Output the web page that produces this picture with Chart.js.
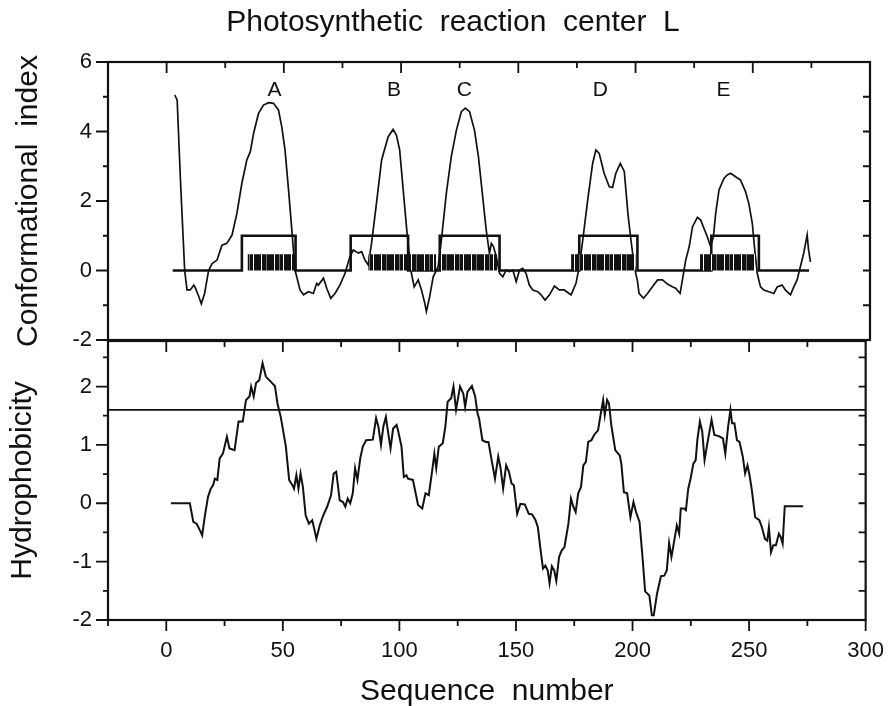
<!DOCTYPE html>
<html><head><meta charset="utf-8">
<script src="https://cdn.jsdelivr.net/npm/chart.js@4.4.1/dist/chart.umd.min.js"></script>
<style>
html,body{margin:0;padding:0;background:#fff;}
#wrap{position:relative;width:890px;height:706px;overflow:hidden;background:#fff;}
canvas{position:absolute;left:0;}
#c1{top:0;z-index:2;}
#c2{top:300px;z-index:1;}
</style></head><body>
<div id="wrap">
<canvas id="c1" width="890" height="365"></canvas>
<canvas id="c2" width="890" height="406"></canvas>
</div>
<script>
// ---------- data ----------
const seqTicks = [0, 50, 100, 150, 200, 250, 300];
const seqMinor = [-25, 25, 75, 125, 175, 225, 275];
const ciTicks = [-2, 0, 2, 4, 6];
const ciMinor = [-1, 1, 3, 5];
const hyTicks = [-2, -1, 0, 1, 2];
const hyMinor = [-1.5, -0.5, 0.5, 1.5, 2.5];

const helixLabels = ['A', 'B', 'C', 'D', 'E'];
const helixLabelX = [46, 97, 127, 185, 237.5];
const helixLabelY = 5.2;

const stepX = [2.6, 32.1, 55, 78.5, 103, 116.5, 142, 176, 200.8, 232.3, 252.6, 274];
const stepY = [0, 1, 0, 1, 0, 1, 0, 1, 0, 1, 0, 0];

const barStart = [34.5, 86, 116, 172.5, 227.5];
const barEnd = [55, 115, 141, 200, 251];
const barTop = 0.47;

const ciX = [3.5,4.5,5.9,7.7,8.7,10.1,11.6,12.3,13.7,14.8,16.2,17.9,19.4,21.5,23.6,25.7,27.9,30.0,32.1,34.2,35.7,37.1,39.2,41.3,43.5,45.6,47.7,49.1,50.5,52.0,53.4,54.8,55.5,56.9,58.4,60.5,62.6,64.0,64.7,66.9,68.3,70.0,71.8,73.9,76.1,78.2,79.6,81.8,83.2,84.6,86.0,87.4,89.5,91.7,94.5,96.6,98.0,99.4,100.9,102.3,103.7,104.4,105.6,107.3,108.7,110.1,110.8,112.2,113.7,115.8,117.2,119.3,121.4,123.6,125.7,127.4,129.2,131.3,133.0,134.5,136.3,137.7,138.5,139.4,140.6,142.0,143.4,144.8,146.2,147.7,149.1,150.5,151.9,153.3,154.7,156.2,158.3,159.7,161.4,163.3,165.4,167.5,169.6,172.5,174.6,176.0,177.5,179.6,181.7,183.1,184.5,186.6,188.8,190.2,191.6,193.5,195.2,196.8,198.0,199.5,200.8,201.5,203.4,205.1,207.2,209.4,211.5,213.6,215.7,217.1,219.0,220.0,221.4,222.9,224.3,226.4,227.8,229.2,230.6,232.0,233.2,234.2,235.6,237.7,239.1,240.5,242.7,244.8,246.9,248.3,249.8,250.7,251.9,253.3,254.7,256.9,259.0,260.4,262.5,263.9,266.1,267.5,268.9,270.3,271.7,273.2,273.8,274.6];
const ciY = [5.05,4.9,2.6,0.0,-0.56,-0.56,-0.42,-0.51,-0.75,-0.96,-0.66,0.0,0.2,0.3,0.73,0.78,1.02,1.65,2.51,3.18,3.42,3.95,4.52,4.76,4.83,4.81,4.62,4.14,3.47,2.32,1.17,0.0,-0.18,-0.56,-0.70,-0.61,-0.66,-0.37,-0.42,-0.22,-0.51,-0.80,-0.66,-0.42,-0.08,0.40,0.59,0.50,0.54,0.30,0.16,0.78,1.93,3.18,3.85,4.06,3.90,3.47,2.32,1.26,0.30,-0.08,-0.47,-0.27,-0.56,-0.94,-1.18,-0.75,-0.18,0.11,0.88,2.22,3.27,4.04,4.57,4.67,4.57,4.04,3.27,2.32,1.17,0.49,0.78,0.69,0.40,-0.08,-0.18,0.01,-0.03,0.01,-0.32,0.01,0.06,-0.08,-0.42,-0.56,-0.61,-0.70,-0.85,-0.70,-0.45,-0.56,-0.56,-0.70,-0.37,0.11,0.88,2.03,3.08,3.47,3.37,2.80,2.41,2.39,2.80,3.08,2.85,1.6,0.9,0.1,-0.3,-0.66,-0.80,-0.66,-0.47,-0.27,-0.27,-0.39,-0.47,-0.51,-0.66,-0.27,0.30,0.69,1.26,1.53,1.45,1.21,0.97,0.69,0.97,1.65,2.32,2.65,2.75,2.80,2.70,2.60,2.27,1.93,1.36,0.69,-0.08,-0.47,-0.56,-0.61,-0.66,-0.47,-0.42,-0.56,-0.70,-0.47,-0.27,0.11,0.49,1.02,0.59,0.25];

const hyX = [2,10.1,11.6,13,14.4,15.4,16.5,17.9,19.1,20.1,20.8,21.9,22.9,24.3,26,27.1,29.3,31,32.8,34.2,35.7,36.4,37.5,38.5,39.9,41.3,42.7,44.9,46.6,47.7,49.1,51.3,52.7,54.1,54.8,55.8,56.7,57.6,58.6,59.8,61.2,62.6,63.6,64.4,65.8,67.3,69,70.7,71.8,72.9,74.4,75.8,76.8,77.8,78.9,80,81,82,83.2,84.3,85.7,88.6,90,91,92.1,93.1,94.2,95.2,96.2,97.3,98.8,99.4,100.9,101.9,103,103.7,105.8,108,109.8,111.2,112.6,114.1,115,115.8,116.9,118.6,119.7,120.7,122.2,123.2,124.3,126,127.4,128.2,129.2,131.1,132.5,133.5,134.2,135.6,137.1,138.2,139.2,141,142.4,143.4,144.5,145.8,147,148.1,149.1,150.5,151.9,153.8,155.5,156.9,158.3,159.4,160.4,161.6,162.6,163.6,164.4,165.4,166.4,167.3,168.5,169.6,170.8,172.5,173.6,174.6,175.6,176.7,177.9,178.9,180,181,182.4,183.5,185.2,186.4,187.4,188.1,189.1,189.9,190.9,192.6,194.5,195.2,196.3,197.7,199.1,200.4,201.5,203,204.4,205.4,207.2,208.3,209.1,210.5,212.2,213.6,214.7,215.7,216.7,217.9,219,220,220.7,222.1,222.9,223.9,224.9,226.1,227.1,227.8,228.9,229.9,230.9,232,233.9,235.1,237,238.8,239.8,241,242,242.7,243.7,244.8,245.9,247.3,248.3,249.3,250.2,251.2,252.6,254.4,255.5,256.8,257.8,258.5,259.4,260.4,261.5,262.8,263.6,264.4,265.3,273.2];
const hyY = [0,0,-0.32,-0.35,-0.46,-0.55,-0.23,0.11,0.25,0.31,0.42,0.40,0.77,0.85,1.14,0.94,0.91,1.40,1.40,1.77,1.83,2.00,1.83,2.06,2.11,2.40,2.17,2.08,2.01,1.71,1.48,0.97,0.40,0.31,0.25,0.48,0.25,0.51,0.28,-0.21,-0.35,-0.29,-0.46,-0.61,-0.38,-0.21,-0.06,0.14,0.51,0.54,0.05,0.02,-0.06,0.08,0,0.17,0.60,0.40,0.77,0.97,1.08,1.09,1.46,1.31,1.00,1.31,1.48,1.20,0.94,1.28,1.34,1.25,0.97,0.45,0.48,0.42,0.40,-0.03,-0.09,0.17,0.14,0.57,0.85,0.60,0.97,1.03,1.31,1.74,1.80,2.00,1.60,2.00,1.88,1.65,1.91,2.01,1.83,1.54,1.45,1.08,1.05,1.05,0.82,0.42,0.80,0.60,0.25,0.65,0.54,0.34,0.31,-0.18,-0.01,-0.02,-0.18,-0.19,-0.28,-0.41,-0.75,-1.12,-1.07,-1.15,-1.37,-1.08,-1.15,-1.33,-0.92,-0.81,-0.75,-0.35,0.08,-0.06,-0.15,0.17,0.28,0.65,0.71,1.05,1.08,1.17,1.25,1.54,1.77,1.51,1.77,1.71,1.34,0.91,0.82,0.68,0.19,0.17,-0.24,0.02,-0.15,-0.32,-0.98,-1.51,-1.58,-1.92,-1.92,-1.55,-1.25,-1.24,-1.15,-0.68,-0.92,-0.64,-0.38,-0.52,-0.09,-0.09,-0.12,0.25,0.42,0.68,0.74,1.08,1.40,1.23,0.74,1.00,1.43,1.17,1.15,1.11,0.85,1.31,1.60,1.37,1.37,1.08,1.05,0.80,0.51,0.65,0.48,0.22,-0.24,-0.29,-0.41,-0.61,-0.64,-0.41,-0.84,-0.72,-0.72,-0.52,-0.58,-0.69,-0.05,-0.05];

const hyThreshold = 1.6;

// ---------- styling helpers ----------
const INK = '#111';
const FONT = '"Liberation Sans", Arial, sans-serif';
Chart.defaults.font.family = FONT;
Chart.defaults.color = INK;

function barcodePattern() {
  const c = document.createElement('canvas');
  c.width = 30; c.height = 8;
  const g = c.getContext('2d');
  g.fillStyle = INK; g.fillRect(0, 0, 30, 8);
  g.fillStyle = '#fff';
  [4, 13, 21].forEach(x => g.fillRect(x, 0, 1, 8));
  g.fillStyle = '#777';
  [9, 26].forEach(x => g.fillRect(x, 0, 1, 8));
  return g.createPattern(c, 'repeat');
}

const framePlugin = {
  id: 'frame',
  afterDatasetsDraw(chart, args, o) {
    const {ctx, chartArea: a, scales} = chart;
    const xs = scales.x, ys = scales.y;
    ctx.save();
    ctx.strokeStyle = INK;
    ctx.lineWidth = 2.2;
    ctx.strokeRect(a.left, a.top, a.right - a.left, a.bottom - a.top);
    ctx.lineWidth = 1.8;
    ctx.beginPath();
    const seg = (x1, y1, x2, y2) => { ctx.moveTo(x1, y1); ctx.lineTo(x2, y2); };
    const inside = (px, lo, hi) => px > lo + 2 && px < hi - 2;
    o.xMajor.forEach(v => {
      const x = xs.getPixelForValue(v);
      if (inside(x, a.left, a.right)) seg(x, a.top, x, a.top + 11);
      if (o.bottomOut) seg(x, a.bottom, x, a.bottom + 11);
    });
    o.xMinor.forEach(v => {
      const x = xs.getPixelForValue(v);
      if (inside(x, a.left, a.right)) seg(x, a.top, x, a.top + 6);
      if (o.bottomOut) seg(x, a.bottom, x, a.bottom + 6);
    });
    o.yMajor.forEach(v => {
      const y = ys.getPixelForValue(v);
      seg(a.left - 12, y, a.left, y);
      if (inside(y, a.top, a.bottom)) seg(a.right - 7, y, a.right, y);
    });
    o.yMinor.forEach(v => {
      const y = ys.getPixelForValue(v);
      seg(a.left - 5, y, a.left, y);
      if (inside(y, a.top, a.bottom)) seg(a.right - 7, y, a.right, y);
    });
    ctx.stroke();
    ctx.restore();
  }
};

const lettersPlugin = {
  id: 'letters',
  afterDatasetsDraw(chart) {
    const {ctx, scales: {x, y}} = chart;
    ctx.save();
    ctx.font = '21px ' + FONT;
    ctx.fillStyle = INK;
    ctx.textAlign = 'center';
    ctx.textBaseline = 'middle';
    helixLabels.forEach((t, i) => ctx.fillText(t, x.getPixelForValue(helixLabelX[i]), y.getPixelForValue(helixLabelY)));
    ctx.restore();
  }
};

const pts = (xs, ys) => xs.map((x, i) => ({x: x, y: ys[i]}));
const pattern = barcodePattern();

const barSets = barStart.map((s, i) => ({
  data: [{x: s, y: barTop}, {x: barEnd[i], y: barTop}],
  fill: 'origin', backgroundColor: pattern, borderWidth: 0, pointRadius: 0
}));

const common = {
  responsive: false, animation: false, devicePixelRatio: 1, events: [],
};

// ---------- top panel ----------
new Chart(document.getElementById('c1'), {
  type: 'line',
  data: {datasets: [
    ...barSets,
    {data: pts(stepX, stepY), stepped: 'before', borderColor: INK, borderWidth: 2.6, pointRadius: 0, fill: false},
    {data: pts(ciX, ciY), borderColor: INK, borderWidth: 1.7, pointRadius: 0, fill: false, tension: 0}
  ]},
  options: Object.assign({}, common, {
    layout: {padding: {left: 36, right: 20, top: 0, bottom: 25}},
    plugins: {
      legend: {display: false}, tooltip: {enabled: false},
      title: {display: true, text: 'Photosynthetic  reaction  center  L', color: INK,
        font: {size: 30, weight: 'normal'}, padding: {top: 5, bottom: 21}},
      frame: {xMajor: seqTicks, xMinor: seqMinor, yMajor: ciTicks, yMinor: ciMinor, bottomOut: false}
    },
    scales: {
      x: {type: 'linear', min: -25, max: 300, display: false},
      y: {type: 'linear', min: -2, max: 6,
        afterFit: s => { s.width = 72; },
        afterBuildTicks: s => { s.ticks = ciTicks.map(v => ({value: v})); },
        grid: {display: false, drawTicks: true, tickLength: 12},
        border: {display: false},
        ticks: {color: INK, font: {size: 22}, padding: 4},
        title: {display: true, text: 'Conformational  index', color: INK,
          font: {size: 30, weight: 'normal'}, padding: {top: -25.5, bottom: 0}}
      }
    }
  }),
  plugins: [framePlugin, lettersPlugin]
});

// ---------- bottom panel ----------
new Chart(document.getElementById('c2'), {
  type: 'line',
  data: {datasets: [
    {data: [{x: -25, y: hyThreshold}, {x: 300, y: hyThreshold}], borderColor: INK, borderWidth: 1.8, pointRadius: 0, fill: false},
    {data: pts(hyX, hyY), borderColor: INK, borderWidth: 2, pointRadius: 0, fill: false, tension: 0}
  ]},
  options: Object.assign({}, common, {
    layout: {padding: {left: 0, right: 20, top: 41, bottom: 0}},
    plugins: {
      legend: {display: false}, tooltip: {enabled: false},
      frame: {xMajor: seqTicks, xMinor: seqMinor, yMajor: hyTicks, yMinor: hyMinor, bottomOut: true}
    },
    scales: {
      x: {type: 'linear', min: -25, max: 300,
        afterFit: s => { s.height = 86; },
        afterBuildTicks: s => { s.ticks = seqTicks.map(v => ({value: v})); },
        grid: {display: false, drawTicks: true, tickLength: 12},
        border: {display: false},
        ticks: {color: INK, font: {size: 22}, padding: 6, maxRotation: 0},
        title: {display: true, text: 'Sequence  number', color: INK,
          font: {size: 30, weight: 'normal', lineHeight: 0.8}, padding: {top: 0, bottom: 2}}
      },
      y: {type: 'linear', min: -2, max: 2.78,
        afterFit: s => { s.width = 108; },
        afterBuildTicks: s => { s.ticks = hyTicks.map(v => ({value: v})); },
        grid: {display: false, drawTicks: true, tickLength: 12},
        border: {display: false},
        ticks: {color: INK, font: {size: 22}, padding: 4},
        title: {display: true, text: 'Hydrophobicity', color: INK,
          font: {size: 30, weight: 'normal'}, padding: {top: 5, bottom: 0}}
      }
    }
  }),
  plugins: [framePlugin]
});
</script>
</body></html>
